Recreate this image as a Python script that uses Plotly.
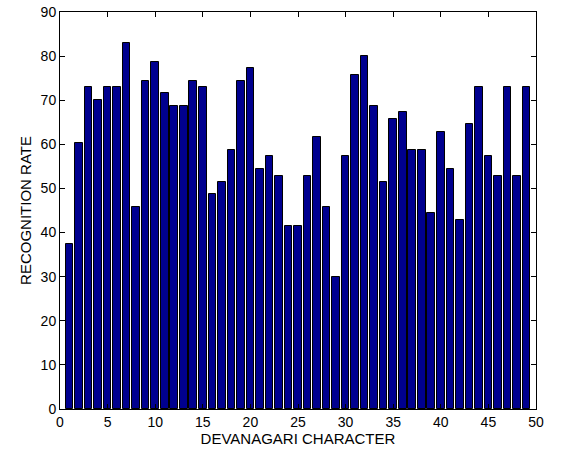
import plotly.graph_objects as go

characters = list(range(1, 50))
recognition_rate = [37.3, 60.2, 72.9, 70.1, 72.9, 72.9, 82.9, 45.7, 74.4, 78.7,
                    71.6, 68.7, 68.7, 74.4, 72.9, 48.7, 51.5, 58.7, 74.4, 77.3,
                    54.4, 57.4, 52.9, 41.6, 41.6, 52.9, 61.6, 45.7, 30.0, 57.4,
                    75.7, 80.0, 68.7, 51.5, 65.8, 67.3, 58.7, 58.7, 44.5, 62.9,
                    54.4, 42.9, 64.5, 72.9, 57.4, 52.9, 72.9, 52.9, 72.9]
x_ticks = [0, 5, 10, 15, 20, 25, 30, 35, 40, 45, 50]
y_ticks = [0, 10, 20, 30, 40, 50, 60, 70, 80, 90]

fig = go.Figure(go.Bar(
    x=characters, y=recognition_rate, width=0.8,
    marker=dict(color="#00008F", line=dict(color="black", width=1)),
))

axis_common = dict(showline=True, linecolor="black", linewidth=1, mirror="ticks",
                   ticks="inside", ticklen=5, tickcolor="black", showgrid=False,
                   zeroline=False, automargin=False,
                   tickfont=dict(size=14, color="black"))
fig.update_xaxes(range=[0, 50], tickvals=x_ticks,
                 title=dict(text="DEVANAGARI CHARACTER", font=dict(size=15, color="black"), standoff=1),
                 **axis_common)
fig.update_yaxes(range=[0, 90], tickvals=y_ticks,
                 title=dict(text="RECOGNITION RATE", font=dict(size=15, color="black"), standoff=5),
                 **axis_common)
fig.update_layout(width=584, height=452, margin=dict(l=60, r=48, t=12, b=43),
                  plot_bgcolor="white", paper_bgcolor="white",
                  font=dict(family="Liberation Sans, Arial, sans-serif"),
                  showlegend=False, bargap=0)
fig.write_html("out.html")
